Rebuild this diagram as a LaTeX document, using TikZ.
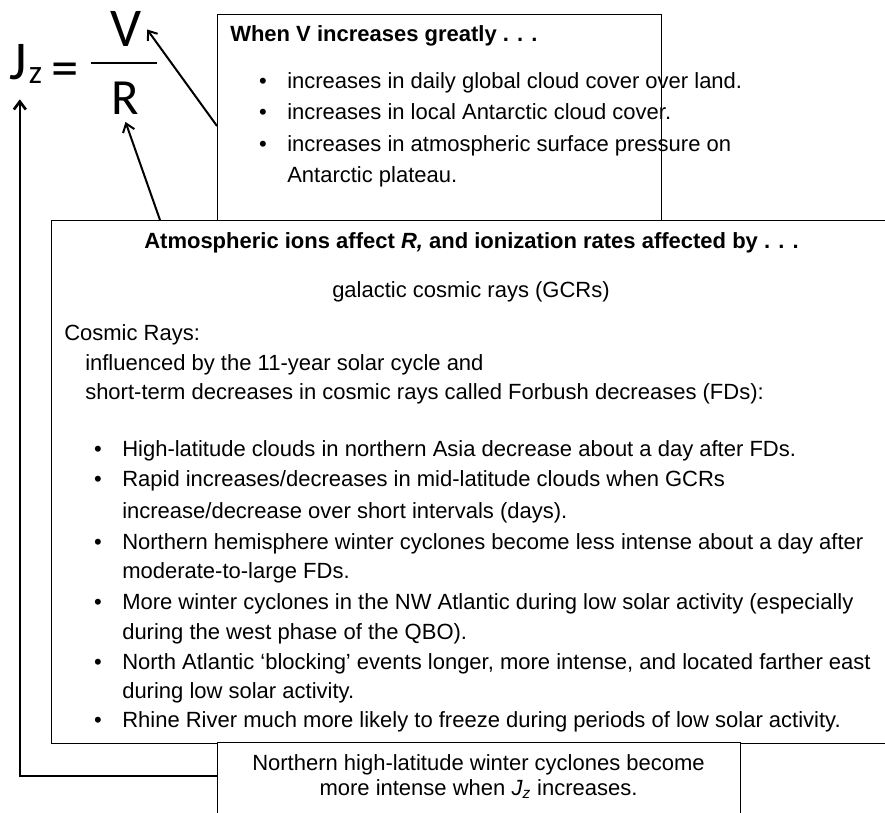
\documentclass[tikz,border=0pt]{standalone}
\usepackage{fontspec}
\setmainfont{Liberation Sans}
\newfontfamily\eqfont{Carlito}
\usetikzlibrary{arrows.meta}

\tikzset{
  panel/.style={draw, line width=1.1pt, fill=white, anchor=north west, inner sep=0pt},
  txt/.style={anchor=base west, inner sep=0pt, font=\fontsize{16.5}{20}\selectfont},
  ctxt/.style={anchor=base, inner sep=0pt, font=\fontsize{16.5}{20}\selectfont},
  bul/.style={anchor=base, inner sep=0pt, font=\fontsize{16.5}{20}\selectfont},
  eqtext/.style={anchor=base, inner sep=0pt, font=\eqfont\fontsize{41}{41}\selectfont},
  arr/.style={line width=1.5pt, -{Straight Barb[length=6pt,width=9pt]}}
}

\begin{document}
\begin{tikzpicture}[x=0.75pt, y=-0.75pt]
  \useasboundingbox (0,0) rectangle (885,813);
  \clip (0,0) rectangle (885,813);

  % Formula
  \node[eqtext] (jz) at (18.5,80) {J};
  \node[eqtext, font=\eqfont\fontsize{25}{25}\selectfont] (zsub) at (35.5,84) {z};
  \node[eqtext] (eq) at (65,87) {=};
  \node[eqtext] (V) at (126,47) {V};
  \node[eqtext, font=\eqfont\fontsize{38}{38}\selectfont] (R) at (125.5,115) {R};
  \draw[line width=2.2pt] (91,63) -- (157,63);

  % Boxes
  \node[panel, minimum width=333pt, minimum height=169.5pt] (vbox) at (217,14) {};
  \node[panel, minimum width=636.75pt, minimum height=392.25pt] (ions) at (51,220) {};
  \node[panel, minimum width=392.25pt, minimum height=66pt] (cyclones) at (217,742) {};

  % Top box text
  \node[txt, font=\fontsize{16.5}{20}\selectfont\bfseries] (vtitle) at (230,42) {When V increases greatly . . .};
  \node[bul] (vb1) at (263,89) {\textbullet};
  \node[txt] (v1) at (287,89) {increases in daily global cloud cover over land.};
  \node[bul] (vb2) at (263,120) {\textbullet};
  \node[txt] (v2) at (287,120) {increases in local Antarctic cloud cover.};
  \node[bul] (vb3) at (263,152) {\textbullet};
  \node[txt] (v3) at (287,152) {increases in atmospheric surface pressure on};
  \node[txt] (v3b) at (287,182) {Antarctic plateau.};

  % Big box text
  \node[ctxt, font=\fontsize{16.5}{20}\selectfont\bfseries] (ititle) at (471.5,248) {Atmospheric ions affect \textit{R,} and ionization rates affected by . . .};
  \node[ctxt] (gcr) at (471,297) {galactic cosmic rays (GCRs)};
  \node[txt] (cr) at (64,340) {Cosmic Rays:};
  \node[txt] (cr1) at (85,370) {influenced by the 11-year solar cycle and};
  \node[txt] (cr2) at (85,399) {short-term decreases in cosmic rays called Forbush decreases (FDs):};

  \node[bul] (ib1) at (98,456) {\textbullet};
  \node[txt] (i1) at (122,456) {High-latitude clouds in northern Asia decrease about a day after FDs.};
  \node[bul] (ib2) at (98,486) {\textbullet};
  \node[txt] (i2) at (122,486) {Rapid increases/decreases in mid-latitude clouds when GCRs};
  \node[txt] (i2b) at (122,518) {increase/decrease over short intervals (days).};
  \node[bul] (ib3) at (98,549) {\textbullet};
  \node[txt] (i3) at (122,549) {Northern hemisphere winter cyclones become less intense about a day after};
  \node[txt] (i3b) at (122,578) {moderate-to-large FDs.};
  \node[bul] (ib4) at (98,609) {\textbullet};
  \node[txt] (i4) at (122,609) {More winter cyclones in the NW Atlantic during low solar activity (especially};
  \node[txt] (i4b) at (122,639) {during the west phase of the QBO).};
  \node[bul] (ib5) at (98,669) {\textbullet};
  \node[txt] (i5) at (122,669) {North Atlantic ‘blocking’ events longer, more intense, and located farther east};
  \node[txt] (i5b) at (122,698) {during low solar activity.};
  \node[bul] (ib6) at (98,727) {\textbullet};
  \node[txt] (i6) at (122,727) {Rhine River much more likely to freeze during periods of low solar activity.};

  % Bottom box text
  \node[ctxt] (c1) at (478.5,770) {Northern high-latitude winter cyclones become};
  \node[ctxt] (c2) at (478.5,795) {more intense when \textit{J}\textsubscript{\textit{z}} increases.};

  % Arrows
  \coordinate (vfoot) at (217,126);
  \coordinate (rfoot) at (160,220);
  \coordinate (cfoot) at (217,776);
  \draw[arr] (vfoot) -- ([xshift=4pt]V.east);
  \draw[arr] (rfoot) -- ([yshift=-5pt]R.south);
  \draw[arr, line width=2pt] (cfoot) -| ([xshift=1pt, yshift=-14pt]jz.south);
\end{tikzpicture}
\end{document}
